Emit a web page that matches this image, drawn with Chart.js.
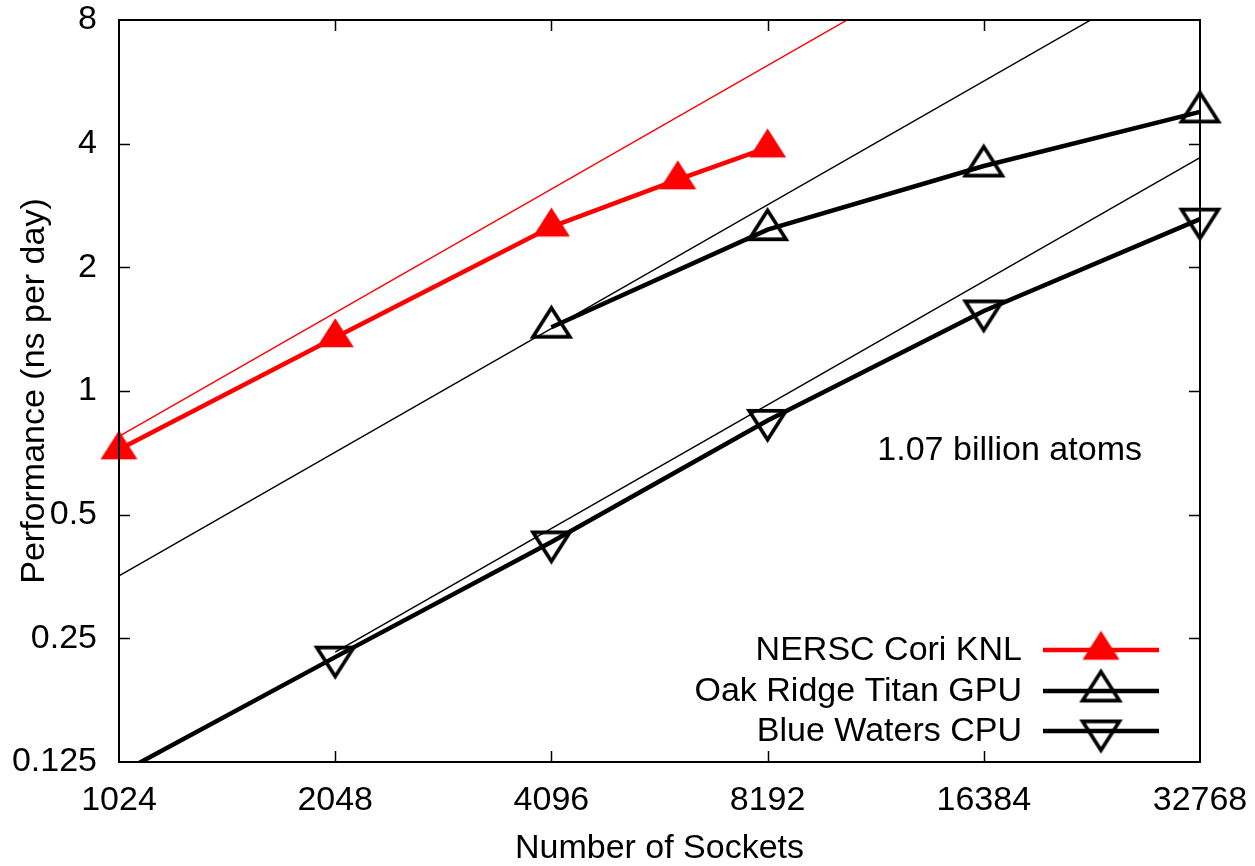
<!DOCTYPE html>
<html><head><meta charset="utf-8">
<script src="https://cdn.jsdelivr.net/npm/chart.js@4"></script>
<style>html,body{margin:0;padding:0;background:#fff;}#wrap{width:1255px;height:866px;}</style>
</head><body><div id="wrap"><canvas id="c" width="1255" height="866"></canvas></div>
<script>
// ---- data ----
const xTickValues = [1024, 2048, 4096, 8192, 16384, 32768];
const xTickLabels = ['1024', '2048', '4096', '8192', '16384', '32768'];
const yTickValues = [0.125, 0.25, 0.5, 1, 2, 4, 8];
const yTickLabels = ['0.125', '0.25', '0.5', '1', '2', '4', '8'];
const seriesNames = ['NERSC Cori KNL', 'Oak Ridge Titan GPU', 'Blue Waters CPU'];
const xTitle = 'Number of Sockets';
const yTitle = 'Performance (ns per day)';
const noteText = '1.07 billion atoms';

const coriSockets = [1024, 2048, 4096, 6144, 8192];
const coriPerf = [0.72, 1.35, 2.51, 3.27, 3.91];
const titanSockets = [4096, 8192, 16384, 32768];
const titanPerf = [1.43, 2.47, 3.53, 4.78];
const bwSockets = [1024, 2048, 4096, 8192, 16384, 32768];
const bwPerf = [0.117, 0.225, 0.429, 0.848, 1.566, 2.62];

// ideal (linear) scaling reference lines
const coriIdealSockets = [1024, 16384];
const coriIdealPerf = [0.775, 12.4];
const titanIdealSockets = [1024, 32768];
const titanIdealPerf = [0.355, 11.36];
const bwIdealSockets = [2048, 32768];
const bwIdealPerf = [0.2313, 3.70];

// ---- styling ----
const FONT = '"Liberation Sans", Arial, Helvetica, sans-serif';
const FS = 34;
const RED = '#ff0000';
const BLACK = '#000000';

function triCanvas(up, filled, color) {
  const W = 37, H = 29, lw = 3.6, m = 5;
  const cw = Math.ceil(W + 2 * m), ch = Math.ceil(4 * H / 3 + 2 * m);
  const c = document.createElement('canvas');
  c.width = cw; c.height = ch;
  const g = c.getContext('2d');
  const cx = cw / 2, cy = ch / 2;
  g.beginPath();
  if (up) {
    g.moveTo(cx, cy - 2 * H / 3); g.lineTo(cx + W / 2, cy + H / 3); g.lineTo(cx - W / 2, cy + H / 3);
  } else {
    g.moveTo(cx, cy + 2 * H / 3); g.lineTo(cx + W / 2, cy - H / 3); g.lineTo(cx - W / 2, cy - H / 3);
  }
  g.closePath();
  if (filled) { g.fillStyle = color; g.fill(); }
  else { g.lineWidth = lw; g.strokeStyle = color; g.lineJoin = 'miter'; g.stroke(); }
  return c;
}
const mkCori = triCanvas(true, true, RED);
const mkTitan = triCanvas(true, false, BLACK);
const mkBW = triCanvas(false, false, BLACK);

function pts(xs, ys) { return xs.map((x, i) => ({ x: x, y: ys[i] })); }

const edgeClip = { left: false, right: false, top: 0, bottom: 0 };

const datasets = [
  { label: seriesNames[0], data: pts(coriSockets, coriPerf), borderColor: RED, borderWidth: 4.5,
    pointStyle: mkCori, pointRadius: 2, pointHoverRadius: 2, clip: edgeClip, order: 0 },
  { label: seriesNames[1], data: pts(titanSockets, titanPerf), borderColor: BLACK, borderWidth: 4.5,
    pointStyle: mkTitan, pointRadius: 2, pointHoverRadius: 2, clip: edgeClip, order: 1 },
  { label: seriesNames[2], data: pts(bwSockets, bwPerf), borderColor: BLACK, borderWidth: 4.5,
    pointStyle: mkBW, pointRadius: 2, pointHoverRadius: 2, clip: edgeClip, order: 2 },
  { label: 'ideal1', data: pts(coriIdealSockets, coriIdealPerf), borderColor: RED, borderWidth: 1.4,
    pointRadius: 0, clip: edgeClip, order: 3 },
  { label: 'ideal2', data: pts(titanIdealSockets, titanIdealPerf), borderColor: BLACK, borderWidth: 1.4,
    pointRadius: 0, clip: edgeClip, order: 4 },
  { label: 'ideal3', data: pts(bwIdealSockets, bwIdealPerf), borderColor: BLACK, borderWidth: 1.4,
    pointRadius: 0, clip: edgeClip, order: 5 }
];

const legendItems = [
  { name: seriesNames[0], color: RED, marker: mkCori },
  { name: seriesNames[1], color: BLACK, marker: mkTitan },
  { name: seriesNames[2], color: BLACK, marker: mkBW }
];

const framePlugin = {
  id: 'frame',
  afterDatasetsDraw(chart) {
    const ctx = chart.ctx, a = chart.chartArea;
    const xs = chart.scales.x, ys = chart.scales.y;
    ctx.save();
    ctx.strokeStyle = BLACK;
    // ticks (inward, mirrored)
    ctx.lineWidth = 1.5;
    const TL = 11;
    ctx.beginPath();
    xTickValues.forEach(v => {
      const px = Math.round(xs.getPixelForValue(v)) + 0.5;
      if (px < a.left + 2 || px > a.right - 2) return;
      ctx.moveTo(px, a.bottom); ctx.lineTo(px, a.bottom - TL);
      ctx.moveTo(px, a.top); ctx.lineTo(px, a.top + TL);
    });
    yTickValues.forEach(v => {
      const py = Math.round(ys.getPixelForValue(v)) + 0.5;
      if (py < a.top + 2 || py > a.bottom - 2) return;
      ctx.moveTo(a.left, py); ctx.lineTo(a.left + TL, py);
      ctx.moveTo(a.right, py); ctx.lineTo(a.right - TL, py);
    });
    ctx.stroke();
    // border
    ctx.lineWidth = 2;
    ctx.strokeRect(a.left, a.top, a.right - a.left, a.bottom - a.top);

    // annotation
    ctx.fillStyle = BLACK;
    ctx.font = FS + 'px ' + FONT;
    ctx.textAlign = 'center';
    ctx.textBaseline = 'middle';
    ctx.fillText(noteText, xs.getPixelForValue(17800), ys.getPixelForValue(0.714));

    // legend (inside, bottom right)
    const textRight = a.right - 178;
    const lineL = a.right - 157, lineR = a.right - 41, mx = a.right - 99;
    const rowY = [a.bottom - 112, a.bottom - 71, a.bottom - 31];
    ctx.textAlign = 'right';
    legendItems.forEach((it, i) => {
      const y = rowY[i];
      ctx.fillStyle = BLACK;
      ctx.fillText(it.name, textRight, y + 1);
      ctx.strokeStyle = it.color;
      ctx.lineWidth = 4.5;
      ctx.beginPath(); ctx.moveTo(lineL, y); ctx.lineTo(lineR, y); ctx.stroke();
      ctx.drawImage(it.marker, mx - it.marker.width / 2, y - it.marker.height / 2);
    });
    ctx.restore();
  }
};

Chart.defaults.color = BLACK;
Chart.defaults.font.family = FONT;
Chart.defaults.font.size = FS;

new Chart(document.getElementById('c'), {
  type: 'line',
  data: { datasets: datasets },
  options: {
    responsive: false,
    animation: false,
    devicePixelRatio: 1,
    layout: { padding: { top: 20, right: 55, left: 0, bottom: 0 } },
    elements: { line: { tension: 0, fill: false } },
    plugins: { legend: { display: false }, tooltip: { enabled: false }, title: { display: false } },
    scales: {
      x: {
        type: 'logarithmic', min: 1024, max: 32768,
        afterBuildTicks(s) { s.ticks = xTickValues.map(v => ({ value: v })); },
        afterFit(s) { s.height = 104; s.paddingLeft = 0; s.paddingRight = 0; },
        grid: { display: false, drawTicks: false },
        border: { display: false },
        ticks: {
          autoSkip: false, maxRotation: 0, padding: 18,
          font: { size: FS, family: FONT },
          callback(v) { const i = xTickValues.indexOf(v); return i >= 0 ? xTickLabels[i] : ''; }
        },
        title: { display: true, text: xTitle, padding: { top: 0, bottom: 0 }, font: { size: FS, family: FONT, lineHeight: 1.0 } }
      },
      y: {
        type: 'logarithmic', min: 0.125, max: 8,
        afterBuildTicks(s) { s.ticks = yTickValues.map(v => ({ value: v })); },
        afterFit(s) { s.width = 119; s.paddingTop = 0; s.paddingBottom = 0; },
        grid: { display: false, drawTicks: false },
        border: { display: false },
        ticks: {
          autoSkip: false, padding: 22,
          font: { size: FS, family: FONT },
          callback(v) { const i = yTickValues.indexOf(v); return i >= 0 ? yTickLabels[i] : ''; }
        },
        title: { display: true, text: yTitle, padding: { top: 16, bottom: 0 }, font: { size: FS, family: FONT, lineHeight: 1.1 } }
      }
    }
  },
  plugins: [framePlugin]
});
</script>
</body></html>
